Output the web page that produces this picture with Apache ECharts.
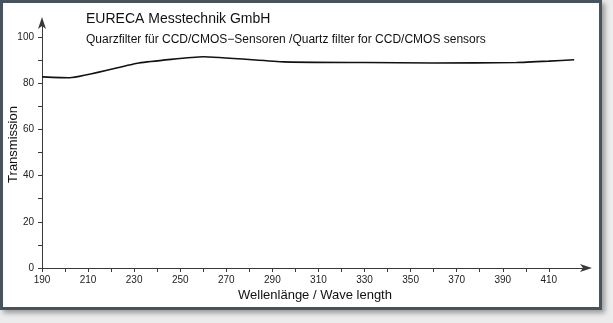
<!DOCTYPE html>
<html><head><meta charset="utf-8">
<script src="https://cdn.jsdelivr.net/npm/echarts@6/dist/echarts.min.js"></script>
<style>
html,body{margin:0;padding:0;background:#ececec;width:613px;height:323px;overflow:hidden}
#frame{position:absolute;left:0;top:0;width:596px;height:304px;background:#fff;border:3px solid #48545d;box-shadow:3px 3px 5px rgba(0,0,0,0.35)}
#c{position:absolute;left:0;top:0;width:613px;height:323px}
</style></head><body>
<div id="frame"></div>
<div id="c"></div>
<script>
const titleText = "EURECA Messtechnik GmbH";
const subtitleText = "Quarzfilter für CCD/CMOS\u2212Sensoren /Quartz filter for CCD/CMOS sensors";
const xName = "Wellenlänge / Wave length";
const yName = "Transmission";
const wavelengths = [190, 202, 232, 260, 295, 330, 360, 396, 410, 421];
const transmission = [82.8, 82.4, 88.8, 91.5, 89.3, 89.0, 88.8, 89.0, 89.6, 90.2];
const xTicks = [190,200,210,220,230,240,250,260,270,280,290,300,310,320,330,340,350,360,370,380,390,400,410];
const xLabels = [190,210,230,250,270,290,310,330,350,370,390,410];
const yTicks = [0,10,20,30,40,50,60,70,80,90,100];
const yLabels = [0,20,40,60,80,100];

const chart = echarts.init(document.getElementById('c'), null, {renderer:'canvas'});
const axisCol = '#3a3a3a';
const font = 'Liberation Sans, Arial, sans-serif';
chart.setOption({
  backgroundColor: 'transparent',
  animation: false,
  title: [
    {text: titleText, left: 81, top: 7, textStyle:{fontFamily:font, fontSize:14, fontWeight:'normal', color:'#111'}},
    {text: subtitleText, left: 81, top: 29, textStyle:{fontFamily:font, fontSize:12, fontWeight:'normal', color:'#111'}}
  ],
  grid: {left: 42, top: 21, right: 25, bottom: 55, containLabel:false, outerBoundsMode:'none'},
  xAxis: {
    type:'value', min:190, max:427,
    name: xName, nameLocation:'middle', nameGap: 21, nameMoveOverlap:false,
    nameTextStyle:{fontFamily:font, fontSize:13, color:'#111'},
    axisLine:{show:true, lineStyle:{color:axisCol, width:1}, symbol:['none','arrow'], symbolSize:[6,12], symbolOffset:[0,4]},
    axisTick:{show:true, inside:false, length:4, lineStyle:{color:axisCol}, customValues:xTicks},
    axisLabel:{fontFamily:font, fontSize:10, color:'#222', margin:7, customValues:xLabels},
    splitLine:{show:false}
  },
  yAxis: {
    type:'value', min:0, max:107,
    name: yName, nameLocation:'middle', nameGap: 22, nameRotate:90, nameMoveOverlap:false,
    nameTextStyle:{fontFamily:font, fontSize:13, color:'#111'},
    axisLine:{show:true, lineStyle:{color:axisCol, width:1}, symbol:['none','arrow'], symbolSize:[6,12], symbolOffset:[0,4]},
    axisTick:{show:true, inside:false, length:4, lineStyle:{color:axisCol}, customValues:yTicks},
    axisLabel:{fontFamily:font, fontSize:10, color:'#222', margin:8, customValues:yLabels},
    splitLine:{show:false}
  },
  series: [{
    type:'line',
    data: wavelengths.map((w,i)=>[w, transmission[i]]),
    showSymbol:false, smooth:0.15,
    lineStyle:{color:'#111', width:1.6}
  }]
});
</script>
</body></html>
